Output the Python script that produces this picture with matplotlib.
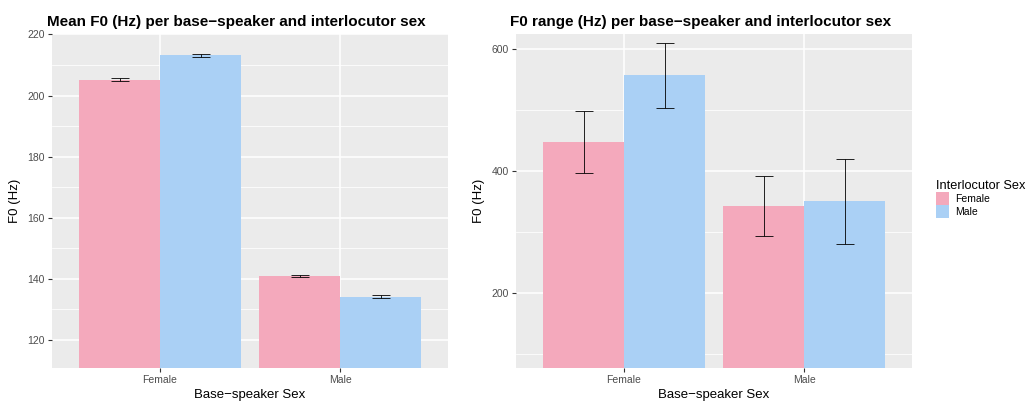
import matplotlib
matplotlib.use("Agg")
import matplotlib.pyplot as plt
from matplotlib.patches import Patch
from matplotlib.ticker import MultipleLocator

plt.rcParams['font.family'] = ['Liberation Sans', 'DejaVu Sans']

base_sex = ["Female", "Male"]
interloc_sex = ["Female", "Male"]
colors = {"Female": "#F4A9BC", "Male": "#AAD0F5"}

# Mean F0 values [base][interlocutor]
mean_f0 = {"Female": [205.2, 213.1], "Male": [140.8, 134.2]}
mean_f0_err = {"Female": [0.6, 0.6], "Male": [0.3, 0.4]}

# F0 range values
range_f0 = {"Female": [447, 556], "Male": [342, 350]}
range_f0_lo = {"Female": [397, 503], "Male": [294, 281]}
range_f0_hi = {"Female": [498, 609], "Male": [391, 419]}

W, H = 1031, 403
fig = plt.figure(figsize=(W / 100, H / 100), dpi=100)

def px(x0, y0, x1, y1):
    return [x0 / W, 1 - y1 / H, (x1 - x0) / W, (y1 - y0) / H]

ax1 = fig.add_axes(px(52, 33.5, 448, 368))
ax2 = fig.add_axes(px(516, 33.5, 912, 368))

def style(ax, major, minor, ylim):
    ax.set_facecolor("#EBEBEB")
    ax.set_xlim(0.4, 2.6)
    ax.set_ylim(*ylim)
    ax.yaxis.set_major_locator(MultipleLocator(major))
    ax.yaxis.set_minor_locator(MultipleLocator(minor))
    ax.set_xticks([1, 2])
    ax.set_xticklabels(base_sex)
    ax.grid(which="major", color="white", linewidth=1.1, zorder=0)
    ax.grid(which="minor", axis="y", color="white", linewidth=0.55, zorder=0)
    ax.set_axisbelow(True)
    for s in ax.spines.values():
        s.set_visible(False)
    ax.tick_params(axis="both", which="major", length=3, width=0.8, color="#333333",
                   labelcolor="#4D4D4D", labelsize=7.5, pad=2)
    ax.tick_params(axis="y", which="minor", length=0)
    ax.set_ylabel("F0 (Hz)", fontsize=9.5, color="black", labelpad=5)
    ax.set_xlabel("Base\u2212speaker Sex", fontsize=9.5, color="black", labelpad=3)

style(ax1, 20, 10, (110.8, 220.3))
style(ax2, 200, 100, (77.5, 624.6))

w = 0.45
offs = [-w / 2, w / 2]
cap = 0.05
for i, b in enumerate(base_sex):
    for j, s in enumerate(interloc_sex):
        x = i + 1 + offs[j]
        # left
        v = mean_f0[b][j]
        e = mean_f0_err[b][j]
        ax1.bar(x, v, width=w, bottom=0, color=colors[s], zorder=2)
        ax1.vlines(x, v - e, v + e, color="black", linewidth=0.6, zorder=3)
        ax1.hlines([v - e, v + e], x - cap, x + cap, color="black", linewidth=0.6, zorder=3)
        # right
        v = range_f0[b][j]
        lo = range_f0_lo[b][j]
        hi = range_f0_hi[b][j]
        ax2.bar(x, v, width=w, bottom=0, color=colors[s], zorder=2)
        ax2.vlines(x, lo, hi, color="black", linewidth=0.6, zorder=3)
        ax2.hlines([lo, hi], x - cap, x + cap, color="black", linewidth=0.6, zorder=3)

fig.text(47 / W, 1 - 26 / H, "Mean F0 (Hz) per base\u2212speaker and interlocutor sex",
         fontsize=11, fontweight="bold", ha="left", va="baseline")
fig.text(510 / W, 1 - 26 / H, "F0 range (Hz) per base\u2212speaker and interlocutor sex",
         fontsize=11, fontweight="bold", ha="left", va="baseline")

handles = [Patch(facecolor=colors[s], edgecolor="none", label=s) for s in interloc_sex]
leg = fig.legend(handles=handles, title="Interlocutor Sex", loc="upper left",
                 bbox_to_anchor=(932 / W, 1 - 176 / H), frameon=False,
                 fontsize=7.5, title_fontsize=9.2, handlelength=1.2, handleheight=1.5,
                 handletextpad=0.6, labelspacing=0.0, borderaxespad=0)
leg._legend_box.align = "left"

fig.savefig("out.png", dpi=100)
